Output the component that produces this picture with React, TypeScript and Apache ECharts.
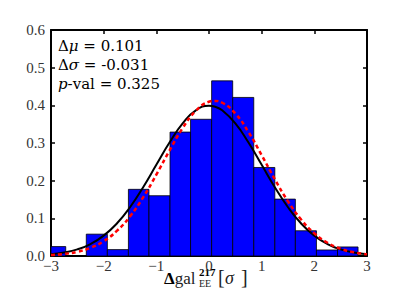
import React, { useEffect, useRef } from "react";
import * as echarts from "echarts";

// Histogram bins: start, end, density
const binStarts = [-3.12, -2.72, -2.33, -1.93, -1.53, -1.14, -0.74, -0.35, 0.05, 0.45, 0.85, 1.25, 1.64, 2.04, 2.44];
const binEnds = [-2.72, -2.33, -1.93, -1.53, -1.14, -0.74, -0.35, 0.05, 0.45, 0.85, 1.25, 1.64, 2.04, 2.44, 2.83];
const binHeights = [0.025, 0.0, 0.058, 0.017, 0.177, 0.16, 0.329, 0.363, 0.465, 0.421, 0.235, 0.151, 0.067, 0.016, 0.024];

// Curves
const curveX = [-3, -2.75, -2.5, -2.25, -2, -1.75, -1.5, -1.25, -1, -0.75, -0.5, -0.25, 0, 0.1, 0.25, 0.5, 0.75, 1, 1.25, 1.5, 1.75, 2, 2.25, 2.5, 2.75, 3];
const blackY = [0.0044, 0.0091, 0.0175, 0.0317, 0.054, 0.0863, 0.1295, 0.1826, 0.242, 0.3011, 0.3521, 0.3867, 0.3989, 0.397, 0.3867, 0.3521, 0.3011, 0.242, 0.1826, 0.1295, 0.0863, 0.054, 0.0317, 0.0175, 0.0091, 0.0044];
const redY = [0.0025, 0.0054, 0.0112, 0.0217, 0.0392, 0.0665, 0.1052, 0.1558, 0.2159, 0.2799, 0.3397, 0.3855, 0.4095, 0.4117, 0.4069, 0.3782, 0.329, 0.2677, 0.2038, 0.1452, 0.0968, 0.0604, 0.0352, 0.0192, 0.0098, 0.0047];

const xTicks = { min: -3, max: 3, interval: 1 };
const yTicks = { min: 0, max: 0.6, interval: 0.1 };

const statLines = [
  ["Δ", "μ", " = 0.101"],
  ["Δ", "σ", " = -0.031"],
  ["", "p", "-val = 0.325"],
];

const SERIF = "Liberation Serif, serif";
const DSERIF = "DejaVu Serif, serif";

export default function App() {
  const ref = useRef<HTMLDivElement>(null);
  useEffect(() => {
    if (!ref.current) return;
    const chart = echarts.init(ref.current, null, { renderer: "svg" });
    const tickLabel = { fontFamily: SERIF, fontSize: 15, color: "#333" };
    const axisLine = { show: true, onZero: false, lineStyle: { color: "#000", width: 2 } };
    const axisTick = { show: true, inside: true, length: 4, lineStyle: { color: "#000", width: 1.5 } };
    const histData = binStarts.map((s, i) => [s, binEnds[i], binHeights[i]]);
    const statGraphics = statLines.map((l, i) => ({
      type: "text",
      left: 58,
      top: 38 + i * 19,
      silent: true,
      style: {
        text: `{a|${l[0]}}{b|${l[1]}}{c|${l[2]}}`,
        rich: {
          a: { fontFamily: DSERIF, fontSize: 15, fill: "#000" },
          b: { fontFamily: DSERIF, fontStyle: "italic", fontSize: 15, fill: "#000" },
          c: { fontFamily: DSERIF, fontSize: 15, fill: "#000" },
        },
      },
    }));
    chart.setOption({
      animation: false,
      textStyle: { fontFamily: SERIF },
      grid: { left: 51, right: 40, top: 30, bottom: 51 },
      xAxis: [
        {
          type: "value", ...xTicks, position: "bottom",
          axisLine, axisTick, splitLine: { show: false },
          axisLabel: { ...tickLabel, margin: 2, formatter: (v: number) => String(v).replace("-", "−") },
        },
        {
          type: "value", ...xTicks, position: "top",
          axisLine, axisTick, splitLine: { show: false }, axisLabel: { show: false },
        },
      ],
      yAxis: [
        {
          type: "value", ...yTicks, position: "left",
          axisLine, axisTick, splitLine: { show: false },
          axisLabel: { ...tickLabel, margin: 6, formatter: (v: number) => v.toFixed(1) },
        },
        {
          type: "value", ...yTicks, position: "right",
          axisLine, axisTick, splitLine: { show: false }, axisLabel: { show: false },
        },
      ],
      series: [
        {
          type: "custom",
          data: histData,
          encode: { x: [0, 1], y: 2 },
          renderItem: (params: any, api: any) => {
            const p0 = api.coord([api.value(0), 0]);
            const p1 = api.coord([api.value(1), api.value(2)]);
            const rect = echarts.graphic.clipRectByRect(
              { x: p0[0], y: p1[1], width: p1[0] - p0[0], height: p0[1] - p1[1] },
              { x: params.coordSys.x, y: params.coordSys.y, width: params.coordSys.width, height: params.coordSys.height }
            );
            if (!rect) return null;
            return {
              type: "rect",
              shape: rect,
              style: { fill: "#0000ff", stroke: "#000", lineWidth: 0.8 },
            };
          },
          z: 1,
        },
        {
          type: "line",
          data: curveX.map((x, i) => [x, blackY[i]]),
          smooth: true,
          showSymbol: false,
          lineStyle: { color: "#000", width: 2 },
          z: 3,
        },
        {
          type: "line",
          data: curveX.map((x, i) => [x, redY[i]]),
          smooth: true,
          showSymbol: false,
          lineStyle: { color: "#ff0000", width: 2.5, type: [4, 3] },
          z: 4,
        },
      ],
      graphic: [
        ...statGraphics,
        {
          type: "text", left: 164, top: 270, silent: true,
          style: {
            text: "{b|Δ}{n|gal}",
            rich: {
              b: { fontFamily: SERIF, fontWeight: "bold", fontSize: 17, fill: "#000" },
              n: { fontFamily: SERIF, fontSize: 17, fill: "#222" },
            },
          },
        },
        {
          type: "text", left: 199, top: 266, silent: true,
          style: { text: "217", fontFamily: SERIF, fontWeight: "bold", fontSize: 11, lineHeight: 9, fill: "#000" },
        },
        {
          type: "text", left: 199, top: 278, silent: true,
          style: { text: "EE", fontFamily: SERIF, fontSize: 10, lineHeight: 9, fill: "#222" },
        },
        {
          type: "text", left: 218, top: 267, silent: true,
          style: { text: "[", fontFamily: SERIF, fontSize: 20, fill: "#222" },
        },
        {
          type: "text", left: 225, top: 269, silent: true,
          style: { text: "σ", fontFamily: SERIF, fontStyle: "italic", fontSize: 18, fill: "#222" },
        },
        {
          type: "text", left: 241, top: 267, silent: true,
          style: { text: "]", fontFamily: SERIF, fontSize: 20, fill: "#222" },
        },
      ],
    });
    return () => chart.dispose();
  }, []);
  return <div ref={ref} style={{ position: "fixed", left: 0, top: 0, width: 407, height: 307, background: "#fff" }} />;
}
